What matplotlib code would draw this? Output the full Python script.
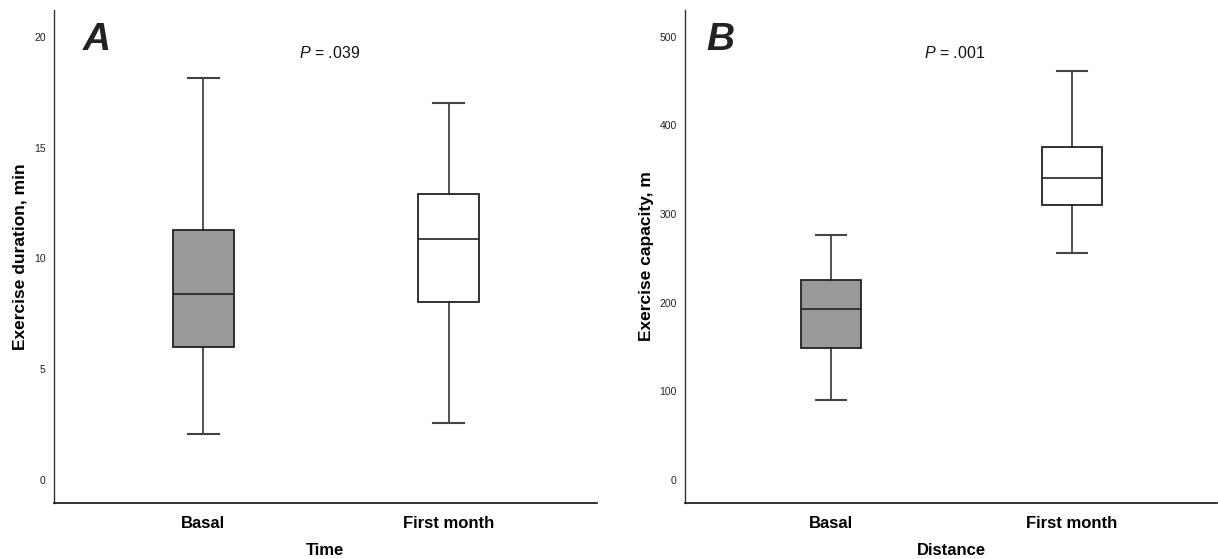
import matplotlib
matplotlib.use("Agg")
import matplotlib.pyplot as plt

plt.rcParams['font.family'] = ['Liberation Sans', 'DejaVu Sans']
plt.rcParams['mathtext.fontset'] = 'custom'
plt.rcParams['mathtext.it'] = 'Liberation Sans:italic'
plt.rcParams['mathtext.rm'] = 'Liberation Sans'

# Box summaries
groups = ["Basal", "First month"]
box_colors = ["#999999", "#ffffff"]

dur_low = [2.08, 2.59]
dur_q1 = [6.02, 8.02]
dur_med = [8.4, 10.9]
dur_q3 = [11.29, 12.9]
dur_high = [18.15, 17.0]

dist_low = [90, 256.5]
dist_q1 = [148.5, 309.6]
dist_med = [192.5, 340.5]
dist_q3 = [225, 375.5]
dist_high = [276, 461]

dur_ticks = [0, 5, 10, 15, 20]
dist_ticks = [0, 100, 200, 300, 400, 500]


def make_stats(low, q1, med, q3, high):
    stats = []
    for i in range(len(groups)):
        stats.append({'label': groups[i], 'whislo': low[i], 'q1': q1[i], 'med': med[i],
                      'q3': q3[i], 'whishi': high[i], 'fliers': []})
    return stats


def draw_panel(ax, stats, ylim, ticks, ylabel, xlabel, letter, ptext, letter_x, ylab_x):
    bp = ax.bxp(stats, positions=[0, 1], widths=0.25, capwidths=0.125, patch_artist=True,
                showfliers=False,
                boxprops=dict(linewidth=1.3, edgecolor='#222222'),
                medianprops=dict(color='#222222', linewidth=1.2),
                whiskerprops=dict(color='#222222', linewidth=1.1),
                capprops=dict(color='#444444', linewidth=1.5))
    for patch, c in zip(bp['boxes'], box_colors):
        patch.set_facecolor(c)

    ax.set_xlim(-0.608, 1.604)
    ax.set_ylim(*ylim)
    ax.set_yticks(ticks)
    ax.set_yticklabels([str(t) for t in ticks])
    ax.tick_params(axis='y', length=0, pad=6, labelsize=7.5, labelcolor='#222222')
    ax.tick_params(axis='x', length=0, pad=9, labelsize=12)
    for lab in ax.get_xticklabels():
        lab.set_fontweight('bold')

    ax.spines['top'].set_visible(False)
    ax.spines['right'].set_visible(False)
    ax.spines['left'].set_color('#333333')
    ax.spines['bottom'].set_color('#111111')
    ax.spines['left'].set_linewidth(1.0)
    ax.spines['bottom'].set_linewidth(1.2)

    ax.set_ylabel(ylabel, fontsize=12.5, fontweight='bold', va='center')
    ax.yaxis.set_label_coords(ylab_x, 0.5)
    ax.set_xlabel(xlabel, fontsize=12, fontweight='bold', labelpad=9)

    ax.text(letter_x, 0.919, letter, transform=ax.transAxes, fontsize=28,
            fontweight='bold', fontstyle='italic', color='#222222', va='baseline')
    ax.text(0.507, 0.903, ptext, transform=ax.transAxes, fontsize=11.5,
            ha='center', va='baseline', color='#111111')


fig = plt.figure(figsize=(12.18, 5.59), dpi=100)
ax1 = fig.add_axes([54 / 1218, 1 - 503 / 559, 543 / 1218, 493 / 559])
ax2 = fig.add_axes([685 / 1218, 1 - 503 / 559, 532 / 1218, 493 / 559])

draw_panel(ax1, make_stats(dur_low, dur_q1, dur_med, dur_q3, dur_high), (-1.04, 21.22),
           dur_ticks, "Exercise duration, min", "Time", "A", r"$\it{P}$ = .039", 0.053, -0.062)
draw_panel(ax2, make_stats(dist_low, dist_q1, dist_med, dist_q3, dist_high), (-25.9, 530),
           dist_ticks, "Exercise capacity, m", "Distance", "B", r"$\it{P}$ = .001", 0.041, -0.073)

fig.savefig("out.png", dpi=100)
